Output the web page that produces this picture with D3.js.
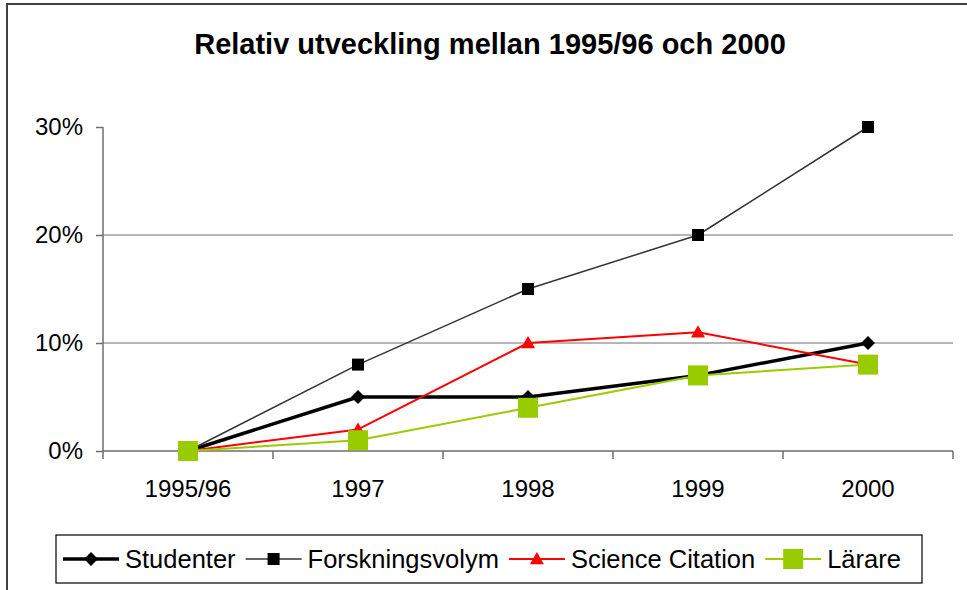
<!DOCTYPE html>
<html lang="sv">
<head>
<meta charset="utf-8">
<title>Relativ utveckling</title>
<script src="https://cdn.jsdelivr.net/npm/d3@7"></script>
<style>
  body { margin: 0; background: #fff; }
  text { font-family: "Liberation Sans", Arial, sans-serif; fill: #000; }
</style>
</head>
<body>
<div id="chart"></div>
<script>
// data (percent)
var years = ["1995/96", "1997", "1998", "1999", "2000"];
var studenter = [0, 5, 5, 7, 10];
var forskningsvolym = [0, 8, 15, 20, 30];
var scienceCitation = [0, 2, 10, 11, 8];
var larare = [0, 1, 4, 7, 8];
var yTicks = [0, 10, 20, 30];

var series = [
  { name: "Studenter", values: studenter, color: "#000", width: 3.5, shape: "diamond", size: 14 },
  { name: "Forskningsvolym", values: forskningsvolym, color: "#333", width: 1.5, shape: "square", size: 12 },
  { name: "Science Citation", values: scienceCitation, color: "#ff0000", width: 2, shape: "triangle", size: 14 },
  { name: "Lärare", values: larare, color: "#99cc00", width: 2, shape: "square", size: 20, fill: "#99cc00" }
];

var W = 967, H = 590;
var plot = { left: 103, right: 953, top: 127, bottom: 451 };

var svg = d3.select("#chart").append("svg")
  .attr("width", W).attr("height", H);

// outer chart frame (only top and left are visible in the picture)
svg.append("path")
  .attr("d", "M7,592 L7,4 L970,4")
  .attr("fill", "none").attr("stroke", "#404040").attr("stroke-width", 2);

svg.append("text")
  .attr("x", 490).attr("y", 54)
  .attr("text-anchor", "middle")
  .style("font-size", "29px").style("font-weight", "bold")
  .text("Relativ utveckling mellan 1995/96 och 2000");

var x = d3.scaleBand().domain(years).range([plot.left, plot.right]);
var y = d3.scaleLinear().domain([0, 30]).range([plot.bottom, plot.top]);

// gridlines
svg.append("g").selectAll("line")
  .data(yTicks.filter(d => d > 0 && d < 30))
  .enter().append("line")
  .attr("x1", plot.left).attr("x2", plot.right)
  .attr("y1", d => y(d)).attr("y2", d => y(d))
  .attr("stroke", "#6e6e6e").attr("stroke-width", 1);

// y axis
var yAxis = svg.append("g")
  .attr("transform", `translate(${plot.left},0)`)
  .call(d3.axisLeft(y).tickValues(yTicks).tickFormat(d => d + "%").tickSize(7).tickPadding(13));
yAxis.select(".domain").attr("stroke", "#6e6e6e").attr("stroke-width", 1.5)
  .attr("d", `M0,${plot.top}V${plot.bottom}`);
yAxis.selectAll(".tick line").attr("stroke", "#6e6e6e").attr("stroke-width", 1.5);
yAxis.selectAll("text").style("font-size", "24px")
  .style("font-family", "'Liberation Sans', Arial, sans-serif").attr("fill", "#000");

// x axis with ticks between categories
var xAxis = svg.append("g")
  .attr("transform", `translate(0,${plot.bottom})`);
xAxis.append("line")
  .attr("x1", plot.left).attr("x2", plot.right)
  .attr("stroke", "#6e6e6e").attr("stroke-width", 1.5);
var bounds = years.map(d => x(d)).concat([plot.right]);
xAxis.selectAll("line.tk").data(bounds).enter().append("line")
  .attr("class", "tk")
  .attr("x1", d => d).attr("x2", d => d)
  .attr("y1", 0).attr("y2", 8)
  .attr("stroke", "#6e6e6e").attr("stroke-width", 1.5);
xAxis.selectAll("text").data(years).enter().append("text")
  .attr("x", d => x(d) + x.bandwidth() / 2)
  .attr("y", 46)
  .attr("text-anchor", "middle")
  .style("font-size", "24px")
  .text(d => d);

function markerPath(shape, s) {
  var h = s / 2;
  if (shape === "diamond") return `M0,${-h}L${h},0L0,${h}L${-h},0Z`;
  if (shape === "triangle") return `M0,${-h}L${h},${h * 0.75}L${-h},${h * 0.75}Z`;
  return `M${-h},${-h}H${h}V${h}H${-h}Z`;
}

var line = d3.line()
  .x((d, i) => x(years[i]) + x.bandwidth() / 2)
  .y(d => y(d));

series.forEach(function (s) {
  var g = svg.append("g");
  g.append("path")
    .datum(s.values)
    .attr("d", line)
    .attr("fill", "none")
    .attr("stroke", s.color)
    .attr("stroke-width", s.width)
    .attr("stroke-linejoin", "round");
  g.selectAll("path.m").data(s.values).enter().append("path")
    .attr("class", "m")
    .attr("transform", (d, i) => `translate(${x(years[i]) + x.bandwidth() / 2},${y(d)})`)
    .attr("d", markerPath(s.shape, s.size))
    .attr("fill", s.fill || (s.shape === "square" ? "#000" : s.color));
});

// legend
var legend = svg.append("g");
legend.append("rect")
  .attr("x", 56).attr("y", 535).attr("width", 866).attr("height", 48)
  .attr("fill", "#fff").attr("stroke", "#000").attr("stroke-width", 1.2);

var lx = 63, ly = 559;
series.forEach(function (s) {
  var item = legend.append("g");
  item.append("line")
    .attr("x1", lx).attr("x2", lx + 56)
    .attr("y1", ly).attr("y2", ly)
    .attr("stroke", s.color).attr("stroke-width", s.width);
  item.append("path")
    .attr("transform", `translate(${lx + 28},${ly})`)
    .attr("d", markerPath(s.shape, s.size))
    .attr("fill", s.fill || (s.shape === "square" ? "#000" : s.color));
  var t = item.append("text")
    .attr("x", lx + 62).attr("y", ly + 9)
    .style("font-size", "25.5px")
    .text(s.name);
  lx += 62 + t.node().getComputedTextLength() + 10;
});
</script>
</body>
</html>
